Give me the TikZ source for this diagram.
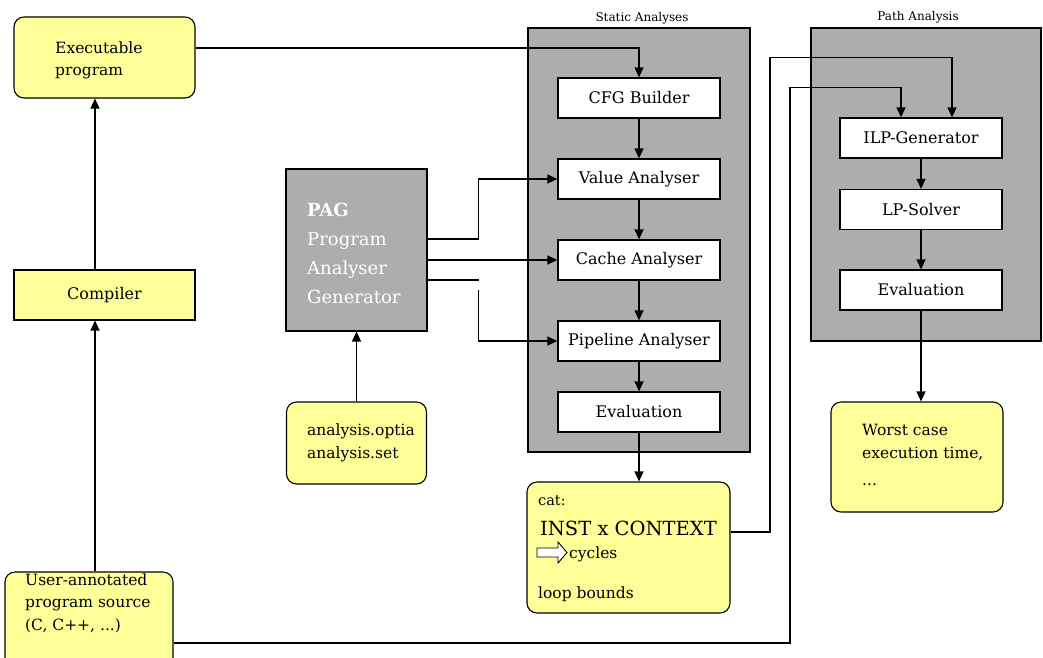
\documentclass[tikz,border=0pt]{standalone}
\usepackage{fontspec}
\setmainfont{DejaVu Serif}
\usetikzlibrary{arrows.meta}
\definecolor{noteyellow}{HTML}{FFFF99}
\definecolor{panelgray}{HTML}{ADADAD}
\tikzset{
  panel/.style={draw=black, line width=1.1pt, fill=panelgray, inner sep=0pt},
  stage/.style={draw=black, line width=1.3pt, fill=white, minimum width=162pt,
    minimum height=40pt, inner sep=0pt, font=\fontsize{16}{19}\selectfont},
  note/.style={draw=black, line width=1.1pt, fill=noteyellow, rounded corners=10pt,
    inner sep=0pt},
  plainnote/.style={draw=black, line width=1.1pt, fill=noteyellow, inner sep=0pt,
    font=\fontsize{16}{19}\selectfont},
  % multi-line notes are placed by the baseline of their last line
  notetext/.style={anchor=base west, align=left, inner sep=0pt,
    font=\fontsize{15.5}{22.5}\selectfont},
  paneltitle/.style={anchor=base, inner sep=0pt, font=\fontsize{12}{14}\selectfont},
  flow/.style={draw=black, line width=1.3pt},
  arr/.style={flow, -{Triangle[length=10pt,width=9pt]}}
}
\begin{document}
\begin{tikzpicture}[x=1pt,y=-1pt]
\clip (0,0) rectangle (1043,657);
\fill[white] (0,0) rectangle (1043,657);

% analysis panels
\node[panel, minimum width=222pt, minimum height=424pt] (static) at (639,240) {};
\node[panel, minimum width=230pt, minimum height=313pt] (path) at (926,184.5) {};
\node[paneltitle] (statictitle) at (642,21) {Static Analyses};
\node[paneltitle] (pathtitle) at (918,20) {Path Analysis};

% stages of the static analyses
\node[stage] (cfg) at (639,98) {CFG Builder};
\node[stage] (value) at (639,179) {Value Analyser};
\node[stage] (cache) at (639,260) {Cache Analyser};
\node[stage] (pipeline) at (639,341) {Pipeline Analyser};
\node[stage] (evals) at (639,412) {Evaluation};

% stages of the path analysis
\node[stage] (ilp) at (921,138) {ILP-Generator};
\node[stage] (lp) at (921,209.5) {LP-Solver};
\node[stage] (evalp) at (921,290) {Evaluation};

% program side
\node[note, minimum width=181pt, minimum height=81pt] (exec) at (104.5,57.5) {};
\node[notetext] (execlbl) at (55,75) {Executable\\[-0.5pt]program};
\node[plainnote, minimum width=181pt, minimum height=50pt] (compiler) at (104.5,295) {Compiler};
\node[note, minimum width=168pt, minimum height=98pt] (user) at (89,621) {};
\node[notetext] (userlbl) at (25,630) {User-annotated\\program source\\(C, C++, ...)};

% analyser generator
\node[panel, minimum width=141pt, minimum height=162pt] (pag) at (356.5,250) {};
\node[anchor=base west, align=left, inner sep=0pt, text=white,
  font=\fontsize{18}{29}\selectfont] (paglbl) at (307,303)
  {\textbf{PAG}\\Program\\Analyser\\Generator};
\node[note, minimum width=140pt, minimum height=82pt] (spec) at (356.5,443) {};
\node[notetext] (speclbl) at (307,458) {analysis.optia\\[0.5pt]analysis.set};

% results
\node[note, minimum width=203pt, minimum height=131pt] (cat) at (628.5,547.5) {};
\node[notetext, font=\fontsize{14.5}{17}\selectfont] (catlbl) at (538,505) {cat:};
\node[notetext, font=\fontsize{19.5}{22}\selectfont] (ctxlbl) at (540,535) {INST x CONTEXT};
\draw[line width=0.9pt, fill=white] (537,548) -- (558,548) -- (558,542) -- (567,552.5)
  -- (558,563) -- (558,557) -- (537,557) -- cycle;
\node[notetext] (cyclbl) at (569,558) {cycles};
\node[notetext] (looplbl) at (538,598) {loop bounds};
\node[note, minimum width=172pt, minimum height=110pt] (worst) at (917,457) {};
\node[notetext, font=\fontsize{15.5}{23}\selectfont] (worstlbl) at (862,485)
  {Worst case\\execution time,\\[4pt]...};

% program flow
\draw[arr] ([xshift=6pt]user.north) -- ([xshift=-9.5pt]compiler.south);
\draw[arr] ([xshift=-9.5pt]compiler.north) -- ([xshift=-9.5pt]exec.south);
\draw[arr] ([yshift=9.5pt]exec.east) -| (cfg.north);

% generated analysers
\draw[arr] (spec.north) -- (pag.south);
\draw[arr] ([yshift=11pt]pag.east) -- ++(51,0) |- (value.west);
\draw[arr] ([yshift=-10pt]pag.east) -- (cache.west);
\draw[arr] ([yshift=-30pt]pag.east) -- ++(51,0) ++(0,10) |- (pipeline.west);

% static analysis chain
\draw[arr] (cfg.south) -- (value.north);
\draw[arr] (value.south) -- (cache.north);
\draw[arr] (cache.south) -- (pipeline.north);
\draw[arr] (pipeline.south) -- (evals.north);
\draw[arr] (evals.south) -- (evals.south |- cat.north);

% inputs of the path analysis
\draw[arr] ([yshift=15.5pt]cat.east) -| ([xshift=-151pt,yshift=60pt]ilp.north)
  -| ([xshift=31pt]ilp.north);
\draw[arr] ([yshift=-22pt]user.east) -| ([xshift=-131pt,yshift=30pt]ilp.north)
  -| ([xshift=-20pt]ilp.north);

% path analysis chain
\draw[arr] (ilp.south) -- (lp.north);
\draw[arr] (lp.south) -- (evalp.north);
\draw[arr] (evalp.south) -- (evalp.south |- worst.north);
\end{tikzpicture}
\end{document}
